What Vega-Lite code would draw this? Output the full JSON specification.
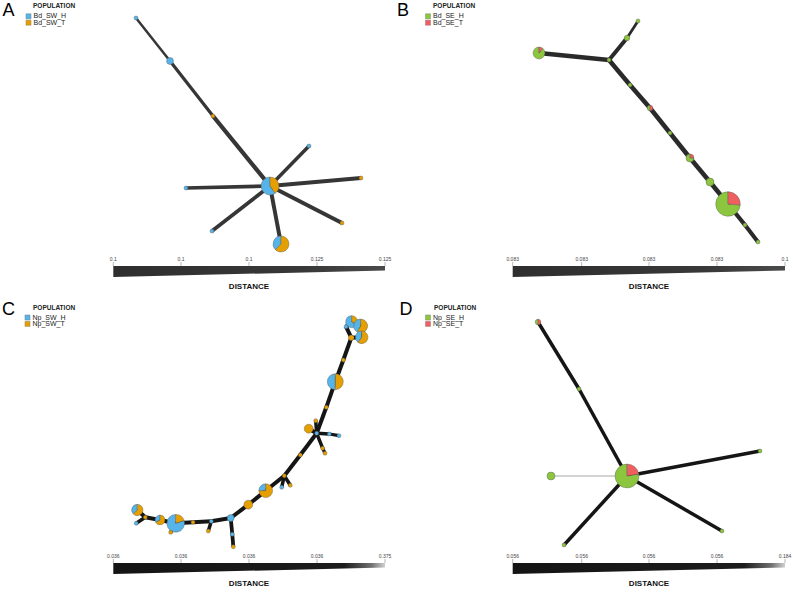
{
  "$schema": "https://vega.github.io/schema/vega-lite/v6.json",
  "width": 793,
  "height": 593,
  "autosize": {"type": "fit", "contains": "padding"},
  "padding": 0,
  "config": {"view": {"stroke": null}, "font": "Liberation Sans"},
  "datasets": {
    "nodes": [
      {"id": "a1", "x": 136, "y": 18}, {"id": "a2", "x": 170, "y": 61}, {"id": "a3", "x": 213, "y": 116},
      {"id": "a0", "x": 270, "y": 186}, {"id": "a4", "x": 309, "y": 146}, {"id": "a5", "x": 361, "y": 178},
      {"id": "a6", "x": 342, "y": 223}, {"id": "a7", "x": 281, "y": 244}, {"id": "a8", "x": 212, "y": 231},
      {"id": "a9", "x": 186, "y": 188},
      {"id": "b1", "x": 638, "y": 21}, {"id": "b2", "x": 627, "y": 38}, {"id": "b3", "x": 609, "y": 60},
      {"id": "b4", "x": 539, "y": 53}, {"id": "b5", "x": 630, "y": 85}, {"id": "b6", "x": 650, "y": 108},
      {"id": "b7", "x": 670, "y": 133}, {"id": "b8", "x": 690, "y": 158}, {"id": "b9", "x": 710, "y": 182},
      {"id": "b10", "x": 728, "y": 204}, {"id": "b11", "x": 745, "y": 225}, {"id": "b12", "x": 758, "y": 242},
      {"id": "c1", "x": 351.7, "y": 321.7}, {"id": "c2", "x": 360.7, "y": 326}, {"id": "c3", "x": 361.7, "y": 337.3},
      {"id": "c4", "x": 346, "y": 326.7}, {"id": "c5", "x": 351.3, "y": 337.7}, {"id": "c6", "x": 343.3, "y": 360},
      {"id": "c7", "x": 335.3, "y": 381.7}, {"id": "c8", "x": 326.3, "y": 407.3}, {"id": "c9", "x": 316.7, "y": 433.3},
      {"id": "c10", "x": 308.7, "y": 428.7}, {"id": "c11", "x": 315.7, "y": 420.7}, {"id": "c12", "x": 329.3, "y": 434},
      {"id": "c13", "x": 339, "y": 435.7}, {"id": "c14", "x": 322.7, "y": 448.3}, {"id": "c15", "x": 325, "y": 453.3},
      {"id": "c16", "x": 300.3, "y": 455}, {"id": "c17", "x": 284.3, "y": 475.7}, {"id": "c18", "x": 281.7, "y": 487.3},
      {"id": "c19", "x": 290.3, "y": 485.3}, {"id": "c20", "x": 265.7, "y": 490.7}, {"id": "c21", "x": 248.3, "y": 504.7},
      {"id": "c22", "x": 230.7, "y": 518}, {"id": "c23", "x": 232.3, "y": 534.3}, {"id": "c24", "x": 233.3, "y": 546.7},
      {"id": "c25", "x": 211.3, "y": 521.3}, {"id": "c26", "x": 208.3, "y": 531}, {"id": "c27", "x": 193, "y": 522.3},
      {"id": "c28", "x": 175.7, "y": 523.3}, {"id": "c29", "x": 160, "y": 520}, {"id": "c30", "x": 145.3, "y": 517.3},
      {"id": "c31", "x": 137.3, "y": 510}, {"id": "c32", "x": 136.3, "y": 523.3}, {"id": "c33", "x": 170.7, "y": 532.3},
      {"id": "d1", "x": 538, "y": 322}, {"id": "d2", "x": 579, "y": 389}, {"id": "d0", "x": 627, "y": 476},
      {"id": "d3", "x": 760, "y": 451}, {"id": "d4", "x": 551, "y": 476}, {"id": "d5", "x": 722, "y": 531},
      {"id": "d6", "x": 564, "y": 545}
    ],
    "slices": [
      {"node": "a1", "pop": "Bd_SW_H", "n": 1}, {"node": "a2", "pop": "Bd_SW_H", "n": 3}, {"node": "a3", "pop": "Bd_SW_T", "n": 1},
      {"node": "a0", "pop": "Bd_SW_H", "n": 12}, {"node": "a0", "pop": "Bd_SW_T", "n": 8},
      {"node": "a4", "pop": "Bd_SW_H", "n": 1}, {"node": "a5", "pop": "Bd_SW_T", "n": 1}, {"node": "a6", "pop": "Bd_SW_T", "n": 1},
      {"node": "a7", "pop": "Bd_SW_H", "n": 6}, {"node": "a7", "pop": "Bd_SW_T", "n": 10},
      {"node": "a8", "pop": "Bd_SW_H", "n": 1}, {"node": "a9", "pop": "Bd_SW_H", "n": 1},
      {"node": "b1", "pop": "Bd_SE_H", "n": 1}, {"node": "b2", "pop": "Bd_SE_H", "n": 2}, {"node": "b3", "pop": "Bd_SE_H", "n": 1},
      {"node": "b4", "pop": "Bd_SE_H", "n": 8}, {"node": "b4", "pop": "Bd_SE_T", "n": 1},
      {"node": "b5", "pop": "Bd_SE_H", "n": 1},
      {"node": "b6", "pop": "Bd_SE_H", "n": 1}, {"node": "b6", "pop": "Bd_SE_T", "n": 1},
      {"node": "b7", "pop": "Bd_SE_H", "n": 1},
      {"node": "b8", "pop": "Bd_SE_H", "n": 3}, {"node": "b8", "pop": "Bd_SE_T", "n": 1},
      {"node": "b9", "pop": "Bd_SE_H", "n": 4},
      {"node": "b10", "pop": "Bd_SE_H", "n": 28}, {"node": "b10", "pop": "Bd_SE_T", "n": 10},
      {"node": "b11", "pop": "Bd_SE_H", "n": 1}, {"node": "b12", "pop": "Bd_SE_H", "n": 1},
      {"node": "c1", "pop": "Np_SW_H", "n": 6}, {"node": "c1", "pop": "Np_SW_T", "n": 3},
      {"node": "c2", "pop": "Np_SW_H", "n": 5}, {"node": "c2", "pop": "Np_SW_T", "n": 7},
      {"node": "c3", "pop": "Np_SW_H", "n": 4}, {"node": "c3", "pop": "Np_SW_T", "n": 6},
      {"node": "c4", "pop": "Np_SW_H", "n": 1}, {"node": "c5", "pop": "Np_SW_T", "n": 2}, {"node": "c6", "pop": "Np_SW_T", "n": 1},
      {"node": "c7", "pop": "Np_SW_H", "n": 8}, {"node": "c7", "pop": "Np_SW_T", "n": 8},
      {"node": "c8", "pop": "Np_SW_T", "n": 1}, {"node": "c9", "pop": "Np_SW_H", "n": 1}, {"node": "c10", "pop": "Np_SW_T", "n": 5},
      {"node": "c11", "pop": "Np_SW_T", "n": 1}, {"node": "c12", "pop": "Np_SW_H", "n": 1}, {"node": "c13", "pop": "Np_SW_H", "n": 1},
      {"node": "c14", "pop": "Np_SW_T", "n": 1}, {"node": "c15", "pop": "Np_SW_T", "n": 1}, {"node": "c16", "pop": "Np_SW_T", "n": 1},
      {"node": "c17", "pop": "Np_SW_T", "n": 1}, {"node": "c18", "pop": "Np_SW_H", "n": 1}, {"node": "c19", "pop": "Np_SW_T", "n": 1},
      {"node": "c20", "pop": "Np_SW_H", "n": 3}, {"node": "c20", "pop": "Np_SW_T", "n": 9},
      {"node": "c21", "pop": "Np_SW_T", "n": 5}, {"node": "c22", "pop": "Np_SW_H", "n": 3}, {"node": "c23", "pop": "Np_SW_H", "n": 1},
      {"node": "c24", "pop": "Np_SW_T", "n": 1}, {"node": "c25", "pop": "Np_SW_H", "n": 1}, {"node": "c26", "pop": "Np_SW_T", "n": 1},
      {"node": "c27", "pop": "Np_SW_T", "n": 1},
      {"node": "c28", "pop": "Np_SW_H", "n": 16}, {"node": "c28", "pop": "Np_SW_T", "n": 4},
      {"node": "c29", "pop": "Np_SW_H", "n": 2}, {"node": "c29", "pop": "Np_SW_T", "n": 4},
      {"node": "c30", "pop": "Np_SW_T", "n": 1},
      {"node": "c31", "pop": "Np_SW_H", "n": 3}, {"node": "c31", "pop": "Np_SW_T", "n": 5},
      {"node": "c32", "pop": "Np_SW_H", "n": 1}, {"node": "c33", "pop": "Np_SW_T", "n": 1},
      {"node": "d1", "pop": "Np_SE_H", "n": 1}, {"node": "d1", "pop": "Np_SE_T", "n": 1},
      {"node": "d2", "pop": "Np_SE_H", "n": 1},
      {"node": "d0", "pop": "Np_SE_H", "n": 28}, {"node": "d0", "pop": "Np_SE_T", "n": 8},
      {"node": "d3", "pop": "Np_SE_H", "n": 1}, {"node": "d4", "pop": "Np_SE_H", "n": 4},
      {"node": "d5", "pop": "Np_SE_H", "n": 1}, {"node": "d6", "pop": "Np_SE_H", "n": 1}
    ],
    "edges": [
      {"panel": "A", "from": "a1", "to": "a2", "dist": 0.5}, {"panel": "A", "from": "a2", "to": "a3", "dist": 0.35},
      {"panel": "A", "from": "a3", "to": "a0", "dist": 0.15}, {"panel": "A", "from": "a0", "to": "a4", "dist": 0.3},
      {"panel": "A", "from": "a0", "to": "a5", "dist": 0.2}, {"panel": "A", "from": "a0", "to": "a6", "dist": 0.2},
      {"panel": "A", "from": "a0", "to": "a7", "dist": 0.2}, {"panel": "A", "from": "a0", "to": "a8", "dist": 0.25},
      {"panel": "A", "from": "a0", "to": "a9", "dist": 0.25},
      {"panel": "B", "from": "b1", "to": "b2", "dist": 0.45}, {"panel": "B", "from": "b2", "to": "b3", "dist": 0.2},
      {"panel": "B", "from": "b3", "to": "b4", "dist": 0.1}, {"panel": "B", "from": "b3", "to": "b5", "dist": 0.1},
      {"panel": "B", "from": "b5", "to": "b6", "dist": 0.1}, {"panel": "B", "from": "b6", "to": "b7", "dist": 0.1},
      {"panel": "B", "from": "b7", "to": "b8", "dist": 0.1}, {"panel": "B", "from": "b8", "to": "b9", "dist": 0.1},
      {"panel": "B", "from": "b9", "to": "b10", "dist": 0.1}, {"panel": "B", "from": "b10", "to": "b11", "dist": 0.15},
      {"panel": "B", "from": "b11", "to": "b12", "dist": 0.2},
      {"panel": "C", "from": "c3", "to": "c2", "dist": 0.2}, {"panel": "C", "from": "c2", "to": "c1", "dist": 0.2},
      {"panel": "C", "from": "c1", "to": "c4", "dist": 0.2}, {"panel": "C", "from": "c4", "to": "c5", "dist": 0.2},
      {"panel": "C", "from": "c5", "to": "c3", "dist": 0.2}, {"panel": "C", "from": "c5", "to": "c6", "dist": 0.2},
      {"panel": "C", "from": "c6", "to": "c7", "dist": 0.2}, {"panel": "C", "from": "c7", "to": "c8", "dist": 0.2},
      {"panel": "C", "from": "c8", "to": "c9", "dist": 0.2}, {"panel": "C", "from": "c9", "to": "c10", "dist": 0.2},
      {"panel": "C", "from": "c9", "to": "c11", "dist": 0.3}, {"panel": "C", "from": "c9", "to": "c12", "dist": 0.3},
      {"panel": "C", "from": "c12", "to": "c13", "dist": 0.35}, {"panel": "C", "from": "c9", "to": "c14", "dist": 0.3},
      {"panel": "C", "from": "c14", "to": "c15", "dist": 0.35}, {"panel": "C", "from": "c9", "to": "c16", "dist": 0.2},
      {"panel": "C", "from": "c16", "to": "c17", "dist": 0.2}, {"panel": "C", "from": "c17", "to": "c18", "dist": 0.3},
      {"panel": "C", "from": "c17", "to": "c19", "dist": 0.3}, {"panel": "C", "from": "c17", "to": "c20", "dist": 0.2},
      {"panel": "C", "from": "c20", "to": "c21", "dist": 0.2}, {"panel": "C", "from": "c21", "to": "c22", "dist": 0.2},
      {"panel": "C", "from": "c22", "to": "c23", "dist": 0.25}, {"panel": "C", "from": "c23", "to": "c24", "dist": 0.25},
      {"panel": "C", "from": "c22", "to": "c25", "dist": 0.2}, {"panel": "C", "from": "c25", "to": "c26", "dist": 0.3},
      {"panel": "C", "from": "c25", "to": "c27", "dist": 0.2}, {"panel": "C", "from": "c27", "to": "c28", "dist": 0.2},
      {"panel": "C", "from": "c28", "to": "c33", "dist": 0.3}, {"panel": "C", "from": "c28", "to": "c29", "dist": 0.2},
      {"panel": "C", "from": "c29", "to": "c30", "dist": 0.2}, {"panel": "C", "from": "c30", "to": "c31", "dist": 0.2},
      {"panel": "C", "from": "c30", "to": "c32", "dist": 0.3},
      {"panel": "D", "from": "d1", "to": "d2", "dist": 0.3}, {"panel": "D", "from": "d2", "to": "d0", "dist": 0.3},
      {"panel": "D", "from": "d0", "to": "d3", "dist": 0.3}, {"panel": "D", "from": "d0", "to": "d4", "dist": 0.85},
      {"panel": "D", "from": "d0", "to": "d5", "dist": 0.3}, {"panel": "D", "from": "d0", "to": "d6", "dist": 0.3}
    ],
    "letters": [
      {"x": 8.5, "y": 16, "text": "A"}, {"x": 403, "y": 16, "text": "B"},
      {"x": 8.5, "y": 315, "text": "C"}, {"x": 406, "y": 315, "text": "D"}
    ],
    "titles": [
      {"x": 33, "y": 6, "text": "POPULATION"}, {"x": 433, "y": 6, "text": "POPULATION"},
      {"x": 33, "y": 308, "text": "POPULATION"}, {"x": 434, "y": 308, "text": "POPULATION"}
    ],
    "legend": [
      {"x": 28.5, "y": 16.3, "pop": "Bd_SW_H"}, {"x": 28.5, "y": 22.7, "pop": "Bd_SW_T"},
      {"x": 428, "y": 16.3, "pop": "Bd_SE_H"}, {"x": 428, "y": 22.7, "pop": "Bd_SE_T"},
      {"x": 27.5, "y": 317.5, "pop": "Np_SW_H"}, {"x": 27.5, "y": 323.9, "pop": "Np_SW_T"},
      {"x": 428, "y": 317.5, "pop": "Np_SE_H"}, {"x": 428, "y": 323.9, "pop": "Np_SE_T"}
    ],
    "ticks": [
      {"x": 113.3, "y": 259, "t": "0.1", "y1": 262, "y2": 266}, {"x": 181, "y": 259, "t": "0.1", "y1": 262, "y2": 266},
      {"x": 249, "y": 259, "t": "0.1", "y1": 262, "y2": 266}, {"x": 317, "y": 259, "t": "0.125", "y1": 262, "y2": 266},
      {"x": 385, "y": 259, "t": "0.125", "y1": 262, "y2": 266},
      {"x": 512.7, "y": 259, "t": "0.083", "y1": 262, "y2": 266}, {"x": 581.7, "y": 259, "t": "0.083", "y1": 262, "y2": 266},
      {"x": 649, "y": 259, "t": "0.083", "y1": 262, "y2": 266}, {"x": 717, "y": 259, "t": "0.083", "y1": 262, "y2": 266},
      {"x": 785, "y": 259, "t": "0.1", "y1": 262, "y2": 266},
      {"x": 113.3, "y": 556, "t": "0.036", "y1": 559, "y2": 563}, {"x": 181, "y": 556, "t": "0.036", "y1": 559, "y2": 563},
      {"x": 249, "y": 556, "t": "0.036", "y1": 559, "y2": 563}, {"x": 317, "y": 556, "t": "0.036", "y1": 559, "y2": 563},
      {"x": 385, "y": 556, "t": "0.375", "y1": 559, "y2": 563},
      {"x": 512.7, "y": 556, "t": "0.056", "y1": 559, "y2": 563}, {"x": 581.7, "y": 556, "t": "0.056", "y1": 559, "y2": 563},
      {"x": 649, "y": 556, "t": "0.056", "y1": 559, "y2": 563}, {"x": 717, "y": 556, "t": "0.056", "y1": 559, "y2": 563},
      {"x": 785, "y": 556, "t": "0.184", "y1": 559, "y2": 563}
    ],
    "bars": [
      {"panel": "A", "x": 113.3, "yt": 266, "yb": 277}, {"panel": "A", "x": 385, "yt": 266, "yb": 270.5},
      {"panel": "B", "x": 512.7, "yt": 266, "yb": 277}, {"panel": "B", "x": 785, "yt": 266, "yb": 270.5},
      {"panel": "C", "x": 113.3, "yt": 563, "yb": 574}, {"panel": "C", "x": 385, "yt": 563, "yb": 567.5},
      {"panel": "D", "x": 512.7, "yt": 563, "yb": 574}, {"panel": "D", "x": 785, "yt": 563, "yb": 567.5}
    ],
    "dlabels": [
      {"x": 249, "y": 287, "text": "DISTANCE"}, {"x": 649, "y": 287, "text": "DISTANCE"},
      {"x": 249, "y": 584, "text": "DISTANCE"}, {"x": 649, "y": 584, "text": "DISTANCE"}
    ]
  },
  "layer": [
    {
      "data": {"name": "edges"},
      "transform": [
        {"lookup": "from", "from": {"data": {"name": "nodes"}, "key": "id", "fields": ["x", "y"]}, "as": ["x1", "y1"]},
        {"lookup": "to", "from": {"data": {"name": "nodes"}, "key": "id", "fields": ["x", "y"]}, "as": ["x2", "y2"]}
      ],
      "mark": {"type": "rule", "strokeCap": "butt"},
      "encoding": {
        "x": {"field": "x1", "type": "quantitative", "scale": {"domain": [0, 793], "nice": false, "zero": false}, "axis": null},
        "y": {"field": "y1", "type": "quantitative", "scale": {"domain": [0, 593], "nice": false, "zero": false, "reverse": true}, "axis": null},
        "x2": {"field": "x2"},
        "y2": {"field": "y2"},
        "strokeWidth": {"field": "dist", "type": "quantitative", "scale": {"domain": [0, 1], "range": [5, 0]}, "legend": null},
        "color": {"condition": [
          {"test": "datum.dist > 0.8", "value": "#8a8a8a"},
          {"test": "datum.panel == 'A'", "value": "#363636"},
          {"test": "datum.panel == 'B'", "value": "#2a2a2a"}
        ], "value": "#151515"}
      }
    },
    {
      "data": {"name": "slices"},
      "transform": [
        {"lookup": "node", "from": {"data": {"name": "nodes"}, "key": "id", "fields": ["x", "y"]}},
        {"joinaggregate": [{"op": "sum", "field": "n", "as": "total"}], "groupby": ["node"]},
        {"stack": "n", "groupby": ["node"], "as": ["t0", "t1"], "offset": "normalize", "sort": [{"field": "pop", "order": "descending"}]}
      ],
      "mark": {"type": "arc", "stroke": "#555555", "strokeWidth": 0.4},
      "encoding": {
        "x": {"field": "x", "type": "quantitative"},
        "y": {"field": "y", "type": "quantitative"},
        "theta": {"field": "t0", "type": "quantitative", "stack": null, "scale": {"domain": [0, 1], "range": [0, 6.2832]}},
        "theta2": {"field": "t1"},
        "radius": {"field": "total", "type": "quantitative", "scale": {"type": "sqrt", "domain": [0, 40], "range": [0, 12.6], "zero": true}},
        "color": {"field": "pop", "type": "nominal", "legend": null,
          "scale": {"domain": ["Bd_SW_H", "Bd_SW_T", "Bd_SE_H", "Bd_SE_T", "Np_SW_H", "Np_SW_T", "Np_SE_H", "Np_SE_T"],
                    "range": ["#56b4e9", "#e69f00", "#8cc63f", "#f05f5f", "#56b4e9", "#e69f00", "#8cc63f", "#f05f5f"]}}
      }
    },
    {
      "data": {"name": "legend"},
      "mark": {"type": "square", "size": 26, "opacity": 1, "stroke": "#777777", "strokeWidth": 0.4},
      "encoding": {
        "x": {"field": "x", "type": "quantitative"},
        "y": {"field": "y", "type": "quantitative"},
        "color": {"field": "pop", "type": "nominal", "legend": null}
      }
    },
    {
      "data": {"name": "legend"},
      "mark": {"type": "text", "align": "left", "baseline": "middle", "dx": 5, "fontSize": 7, "color": "#222222"},
      "encoding": {
        "x": {"field": "x", "type": "quantitative"},
        "y": {"field": "y", "type": "quantitative"},
        "text": {"field": "pop"}
      }
    },
    {
      "data": {"name": "titles"},
      "mark": {"type": "text", "align": "left", "baseline": "middle", "fontSize": 6.5, "fontWeight": "bold", "color": "#222222"},
      "encoding": {
        "x": {"field": "x", "type": "quantitative"},
        "y": {"field": "y", "type": "quantitative"},
        "text": {"field": "text"}
      }
    },
    {
      "data": {"name": "letters"},
      "mark": {"type": "text", "align": "center", "baseline": "alphabetic", "fontSize": 18, "color": "#000000"},
      "encoding": {
        "x": {"field": "x", "type": "quantitative"},
        "y": {"field": "y", "type": "quantitative"},
        "text": {"field": "text"}
      }
    },
    {
      "data": {"name": "bars"},
      "transform": [{"filter": "datum.panel == 'A' || datum.panel == 'B'"}],
      "mark": {"type": "area", "orient": "vertical", "color": {"gradient": "linear", "x1": 0, "x2": 1, "y1": 0, "y2": 0,
        "stops": [{"offset": 0, "color": "#2e2e2e"}, {"offset": 0.7, "color": "#383838"}, {"offset": 1, "color": "#4a4a4a"}]}},
      "encoding": {
        "x": {"field": "x", "type": "quantitative"},
        "y": {"field": "yt", "type": "quantitative", "stack": null},
        "y2": {"field": "yb"},
        "detail": {"field": "panel"}
      }
    },
    {
      "data": {"name": "bars"},
      "transform": [{"filter": "datum.panel == 'C' || datum.panel == 'D'"}],
      "mark": {"type": "area", "orient": "vertical", "color": {"gradient": "linear", "x1": 0, "x2": 1, "y1": 0, "y2": 0,
        "stops": [{"offset": 0, "color": "#141414"}, {"offset": 0.85, "color": "#1c1c1c"}, {"offset": 0.95, "color": "#707070"}, {"offset": 1, "color": "#d0d0d0"}]}},
      "encoding": {
        "x": {"field": "x", "type": "quantitative"},
        "y": {"field": "yt", "type": "quantitative", "stack": null},
        "y2": {"field": "yb"},
        "detail": {"field": "panel"}
      }
    },
    {
      "data": {"name": "ticks"},
      "mark": {"type": "rule", "color": "#888888", "strokeWidth": 0.6},
      "encoding": {
        "x": {"field": "x", "type": "quantitative"},
        "y": {"field": "y1", "type": "quantitative"},
        "y2": {"field": "y2"}
      }
    },
    {
      "data": {"name": "ticks"},
      "mark": {"type": "text", "align": "center", "baseline": "middle", "fontSize": 5, "color": "#444444"},
      "encoding": {
        "x": {"field": "x", "type": "quantitative"},
        "y": {"field": "y", "type": "quantitative"},
        "text": {"field": "t"}
      }
    },
    {
      "data": {"name": "dlabels"},
      "mark": {"type": "text", "align": "center", "baseline": "middle", "fontSize": 8, "fontWeight": "bold", "color": "#111111"},
      "encoding": {
        "x": {"field": "x", "type": "quantitative"},
        "y": {"field": "y", "type": "quantitative"},
        "text": {"field": "text"}
      }
    }
  ]
}
